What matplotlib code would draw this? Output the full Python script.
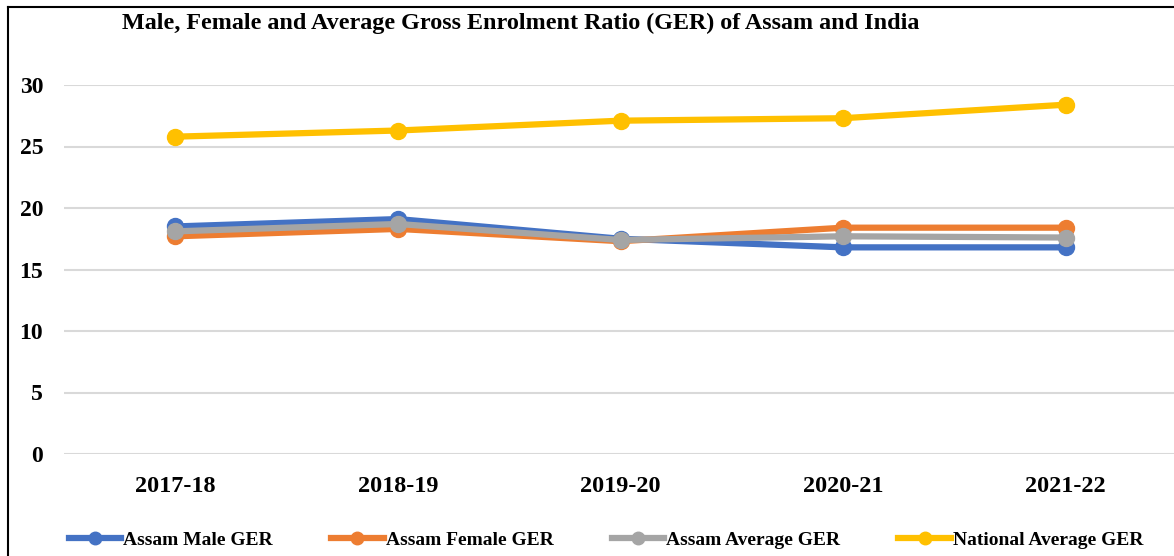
import matplotlib
matplotlib.use("Agg")
import matplotlib.pyplot as plt
from matplotlib.lines import Line2D

years = ["2017-18", "2018-19", "2019-20", "2020-21", "2021-22"]
assam_male = [18.5, 19.1, 17.5, 16.8, 16.8]
assam_female = [17.7, 18.3, 17.3, 18.4, 18.4]
assam_avg = [18.1, 18.7, 17.4, 17.7, 17.6]
national_avg = [25.8, 26.3, 27.1, 27.3, 28.4]
yticks = [0, 5, 10, 15, 20, 25, 30]

series = [
    ("Assam Male GER", assam_male, "#4472C4"),
    ("Assam Female GER", assam_female, "#ED7D31"),
    ("Assam Average GER", assam_avg, "#A5A5A5"),
    ("National Average GER", national_avg, "#FFC000"),
]

W, H = 1174, 556
fig = plt.figure(figsize=(W / 100, H / 100), dpi=100)
fig.patch.set_facecolor("white")

ax = fig.add_axes([64 / W, (H - 454) / H, 1113 / W, 369 / H])
font = "Liberation Serif"

x = list(range(len(years)))
for i, (name, vals, col) in enumerate(series):
    ax.plot(x, vals, color=col, lw=4.5, marker="o", ms=11.5,
            solid_capstyle="round", label=name, zorder=3 + i)

ax.set_xlim(-0.5, len(years) - 0.5)
ax.set_ylim(0, 30)
ax.set_yticks(yticks)
ax.set_xticks(x)
ax.set_xticklabels(years)
ax.grid(axis="y", color="#D9D9D9", lw=1.5)
ax.set_axisbelow(True)
for s in ax.spines.values():
    s.set_visible(False)
ax.tick_params(length=0)
ax.tick_params(axis="y", pad=15)
ax.tick_params(axis="x", pad=16)
for lab in ax.get_xticklabels():
    lab.set_fontfamily(font)
    lab.set_fontweight("bold")
    lab.set_fontsize(17.5)
for lab in ax.get_yticklabels():
    lab.set_fontfamily(font)
    lab.set_fontweight("bold")
    lab.set_fontsize(17)

fig.text(521 / W, 1 - 23 / H,
         "Male, Female and Average Gross Enrolment Ratio (GER) of Assam and India",
         ha="center", va="center", fontfamily=font, fontweight="bold", fontsize=17.4)

handles = [Line2D([0], [0], color=c, lw=4.5, marker="o", ms=9) for _, _, c in series]
leg = fig.legend(handles, [s[0] for s in series], loc="center",
                 bbox_to_anchor=(606 / W, 1 - 540 / H), ncol=4, frameon=False,
                 handlelength=2.7, handletextpad=0.1, columnspacing=3.0,
                 prop={"family": font, "weight": "bold", "size": 14})

# figure border (top and left)
fig.add_artist(Line2D([8 / W, 8 / W], [0, 1 - 7 / H], transform=fig.transFigure,
                      color="black", lw=1.5))
fig.add_artist(Line2D([8 / W, 1], [1 - 7 / H, 1 - 7 / H], transform=fig.transFigure,
                      color="black", lw=1.5))

fig.savefig("out.png", dpi=100, facecolor="white")
